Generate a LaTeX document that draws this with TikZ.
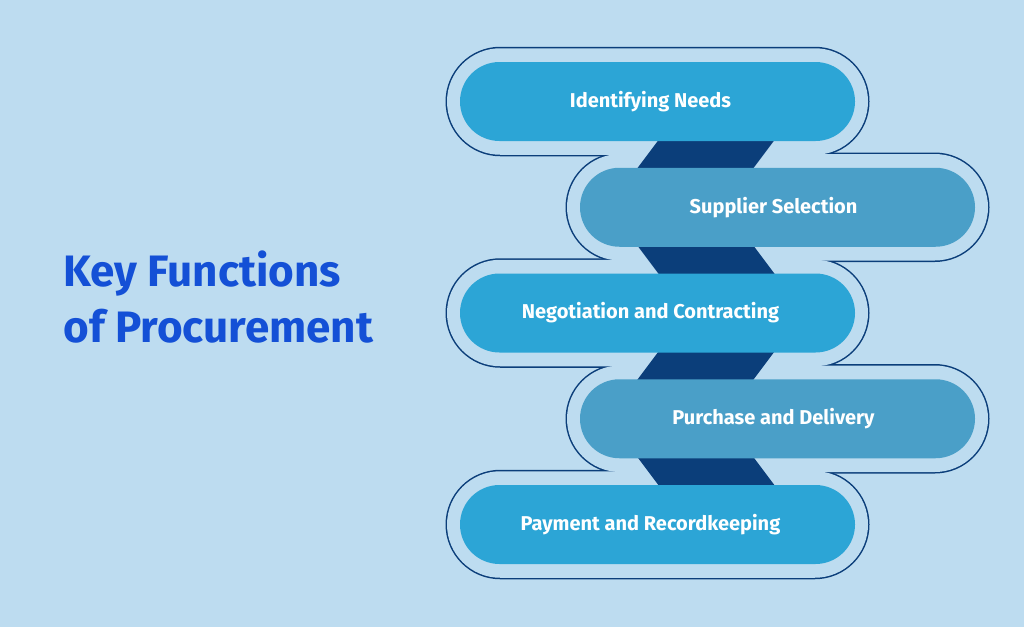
\documentclass[tikz,border=0pt]{standalone}
\usepackage{fontspec}
\setmainfont{Fira Sans}
\usetikzlibrary{shapes.misc}
\definecolor{bg}{HTML}{BDDCF0}
\definecolor{pa}{HTML}{2CA5D6}
\definecolor{pb}{HTML}{4A9FC8}
\definecolor{navy}{HTML}{0B3E7A}
\definecolor{ttl}{HTML}{1450D6}
\begin{document}
\begin{tikzpicture}[x=1pt,y=-1pt,
  outer/.style={rounded rectangle,minimum width=421pt,minimum height=106.5pt,inner sep=0pt},
  pill/.style={rounded rectangle,minimum width=395pt,minimum height=79pt,inner sep=0pt,text=white,font=\bfseries\fontsize{20}{24}\selectfont},
  conn/.style={fill=navy}]
\fill[bg] (0,0) rectangle (1024,627);
\useasboundingbox (0,0) rectangle (1024,627);
\foreach \i/\x in {1/657.5,2/777.5,3/657.5,4/777.5,5/657.5}{
  \node[outer,draw=navy,line width=3pt] (o\i) at (\x,{101.5+105.75*(\i-1)}) {};}
\foreach \i/\x in {1/657.5,2/777.5,3/657.5,4/777.5,5/657.5}{
  \node[outer,fill=bg] at (o\i) {};}
\foreach \k in {0,2}{
  \fill[conn] (660,{138+105.75*\k}) -- (776,{138+105.75*\k}) -- (752,{170+105.75*\k}) -- (636,{170+105.75*\k}) -- cycle;}
\foreach \k in {1,3}{
  \fill[conn] (636,{138+105.75*\k}) -- (752,{138+105.75*\k}) -- (776,{170+105.75*\k}) -- (660,{170+105.75*\k}) -- cycle;}
\node[pill,fill=pa] (p1) at (o1) {\hspace*{-14pt}Identifying Needs};
\node[pill,fill=pb] (p2) at (o2) {\hspace*{-8pt}Supplier Selection};
\node[pill,fill=pa] (p3) at (o3) {\hspace*{-14pt}Negotiation and Contracting};
\node[pill,fill=pb] (p4) at (o4) {\hspace*{-8pt}Purchase and Delivery};
\node[pill,fill=pa] (p5) at (o5) {\hspace*{-14pt}Payment and Recordkeeping};
\node[anchor=west,align=left,text=ttl,font=\bfseries\fontsize{44}{56}\selectfont] (t) at (60,297) {Key Functions\\of Procurement};
\end{tikzpicture}
\end{document}
